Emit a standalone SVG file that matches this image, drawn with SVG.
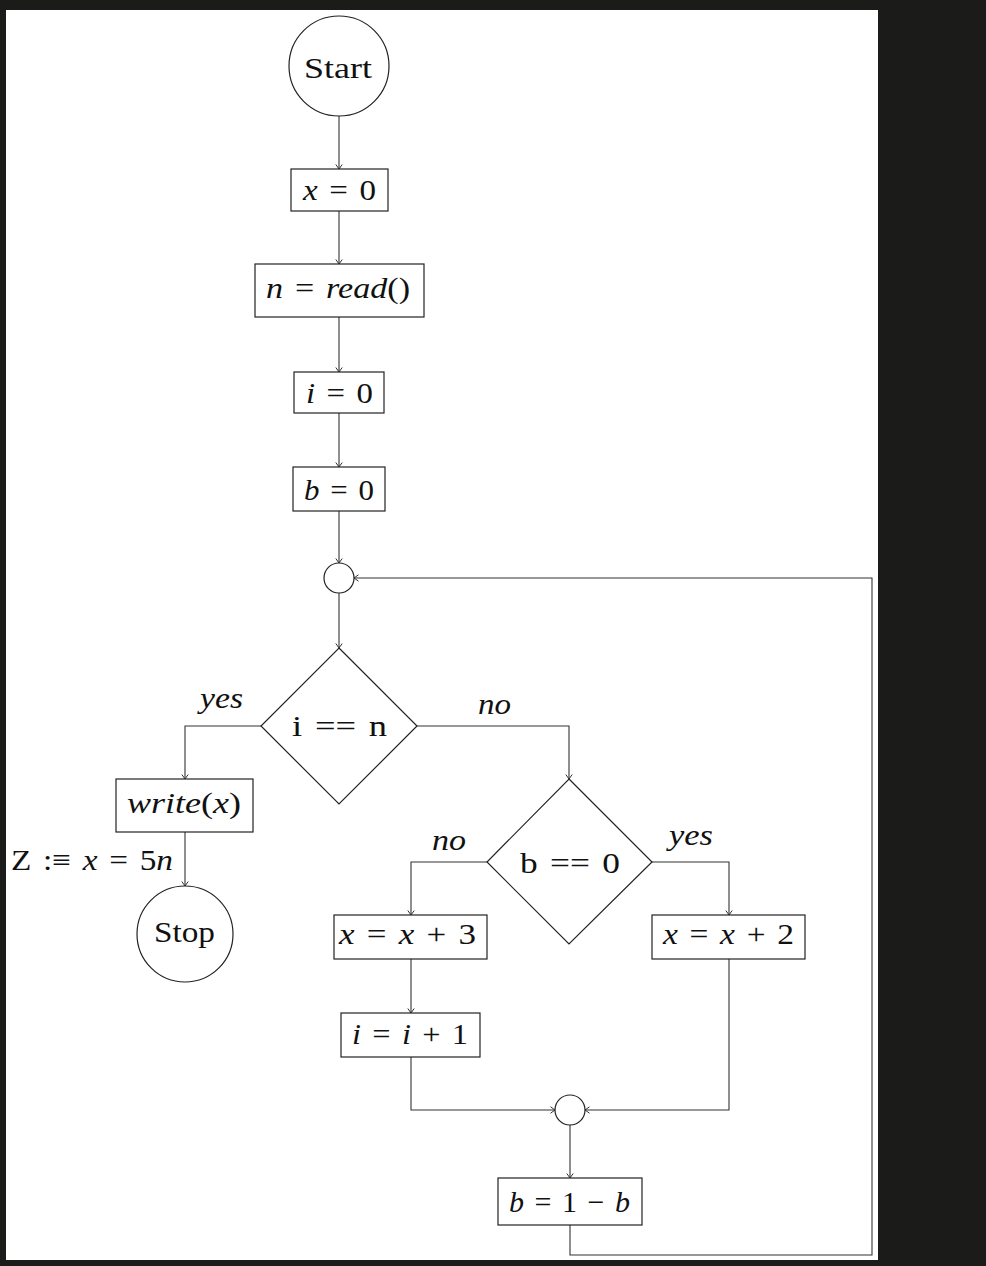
<svg xmlns="http://www.w3.org/2000/svg" width="986" height="1266" viewBox="0 0 986 1266">
<style>
.shape{fill:#fff;stroke:#222;stroke-width:1.2}
.conn{fill:none;stroke:#333;stroke-width:1.1}
text{font-family:"Liberation Serif","Times New Roman",serif;font-size:30px;fill:#111;word-spacing:3px}
.it{font-style:italic}
</style>
<defs>
<marker id="arr" markerWidth="10" markerHeight="10" refX="0" refY="0" viewBox="-6 -5 8 10" orient="auto" markerUnits="userSpaceOnUse">
<path d="M-4.5,-3.2 L0,0 L-4.5,3.2" fill="none" stroke="#333" stroke-width="1"/>
</marker>
</defs>
<rect x="0" y="0" width="986" height="1266" fill="#1b1c19"/>
<rect x="6" y="10" width="872" height="1250" fill="#fff"/>

<g id="connectors">
<path class="conn" d="M339,116 L339,169" marker-end="url(#arr)"/>
<path class="conn" d="M339,211 L339,264" marker-end="url(#arr)"/>
<path class="conn" d="M339,317 L339,372" marker-end="url(#arr)"/>
<path class="conn" d="M339,413 L339,467" marker-end="url(#arr)"/>
<path class="conn" d="M339,511 L339,563" marker-end="url(#arr)"/>
<path class="conn" d="M339,593 L339,648" marker-end="url(#arr)"/>
<path class="conn" d="M261,726 L185,726 L185,779" marker-end="url(#arr)"/>
<path class="conn" d="M185,832 L185,886" marker-end="url(#arr)"/>
<path class="conn" d="M417,726 L569,726 L569,779" marker-end="url(#arr)"/>
<path class="conn" d="M487,862 L411,862 L411,915" marker-end="url(#arr)"/>
<path class="conn" d="M652,862 L729,862 L729,915" marker-end="url(#arr)"/>
<path class="conn" d="M411,959 L411,1013" marker-end="url(#arr)"/>
<path class="conn" d="M411,1057 L411,1110 L555,1110" marker-end="url(#arr)"/>
<path class="conn" d="M729,959 L729,1110 L585,1110" marker-end="url(#arr)"/>
<path class="conn" d="M570,1125 L570,1178" marker-end="url(#arr)"/>
<path class="conn" d="M570,1225 L570,1255 L872,1255 L872,578 L354,578" marker-end="url(#arr)"/>
<text class="it" x="200" y="708" textLength="43" lengthAdjust="spacingAndGlyphs">yes</text>
<text class="it" x="478" y="714" textLength="33" lengthAdjust="spacingAndGlyphs">no</text>
<text class="it" x="432" y="850" textLength="34" lengthAdjust="spacingAndGlyphs">no</text>
<text class="it" x="669" y="845" textLength="44" lengthAdjust="spacingAndGlyphs">yes</text>
<text x="11" y="870" textLength="162" lengthAdjust="spacingAndGlyphs">Z :≡ <tspan class="it">x</tspan> = 5<tspan class="it">n</tspan></text>
</g>

<g id="start">
<circle class="shape" cx="339" cy="66" r="50"/>
<text x="304" y="78" textLength="68" lengthAdjust="spacingAndGlyphs">Start</text>
</g>
<g id="x0">
<rect class="shape" x="291" y="169" width="97" height="42"/>
<text x="303" y="200" textLength="73" lengthAdjust="spacingAndGlyphs"><tspan class="it">x</tspan> = 0</text>
</g>
<g id="nread">
<rect class="shape" x="255" y="264" width="169" height="53"/>
<text x="266" y="298" textLength="144" lengthAdjust="spacingAndGlyphs"><tspan class="it">n</tspan> = <tspan class="it">read</tspan>()</text>
</g>
<g id="i0">
<rect class="shape" x="294" y="372" width="90" height="41"/>
<text x="306" y="403" textLength="67" lengthAdjust="spacingAndGlyphs"><tspan class="it">i</tspan> = 0</text>
</g>
<g id="b0">
<rect class="shape" x="293" y="467" width="92" height="44"/>
<text x="304" y="500" textLength="70" lengthAdjust="spacingAndGlyphs"><tspan class="it">b</tspan> = 0</text>
</g>
<g id="join1">
<circle class="shape" cx="339" cy="578" r="15"/>
</g>
<g id="cond_in">
<polygon class="shape" points="339,648 417,726 339,804 261,726"/>
<text x="292" y="736" textLength="95" lengthAdjust="spacingAndGlyphs">i == n</text>
</g>
<g id="write">
<rect class="shape" x="116" y="779" width="137" height="53"/>
<text x="127" y="813" textLength="114" lengthAdjust="spacingAndGlyphs"><tspan class="it">write</tspan>(<tspan class="it">x</tspan>)</text>
</g>
<g id="stop">
<circle class="shape" cx="185" cy="934" r="48"/>
<text x="154" y="942" textLength="61" lengthAdjust="spacingAndGlyphs">Stop</text>
</g>
<g id="cond_b">
<polygon class="shape" points="569,779 652,862 569,944 487,862"/>
<text x="520" y="873" textLength="100" lengthAdjust="spacingAndGlyphs">b == 0</text>
</g>
<g id="x3">
<rect class="shape" x="334" y="915" width="153" height="44"/>
<text x="339" y="944" textLength="137" lengthAdjust="spacingAndGlyphs"><tspan class="it">x</tspan> = <tspan class="it">x</tspan> + 3</text>
</g>
<g id="x2">
<rect class="shape" x="652" y="915" width="153" height="44"/>
<text x="663" y="944" textLength="131" lengthAdjust="spacingAndGlyphs"><tspan class="it">x</tspan> = <tspan class="it">x</tspan> + 2</text>
</g>
<g id="i1">
<rect class="shape" x="341" y="1013" width="139" height="44"/>
<text x="352" y="1044" textLength="116" lengthAdjust="spacingAndGlyphs"><tspan class="it">i</tspan> = <tspan class="it">i</tspan> + 1</text>
</g>
<g id="join2">
<circle class="shape" cx="570" cy="1110" r="15"/>
</g>
<g id="b1b">
<rect class="shape" x="498" y="1178" width="144" height="47"/>
<text x="509" y="1212" textLength="121" lengthAdjust="spacingAndGlyphs"><tspan class="it">b</tspan> = 1 − <tspan class="it">b</tspan></text>
</g>
</svg>
